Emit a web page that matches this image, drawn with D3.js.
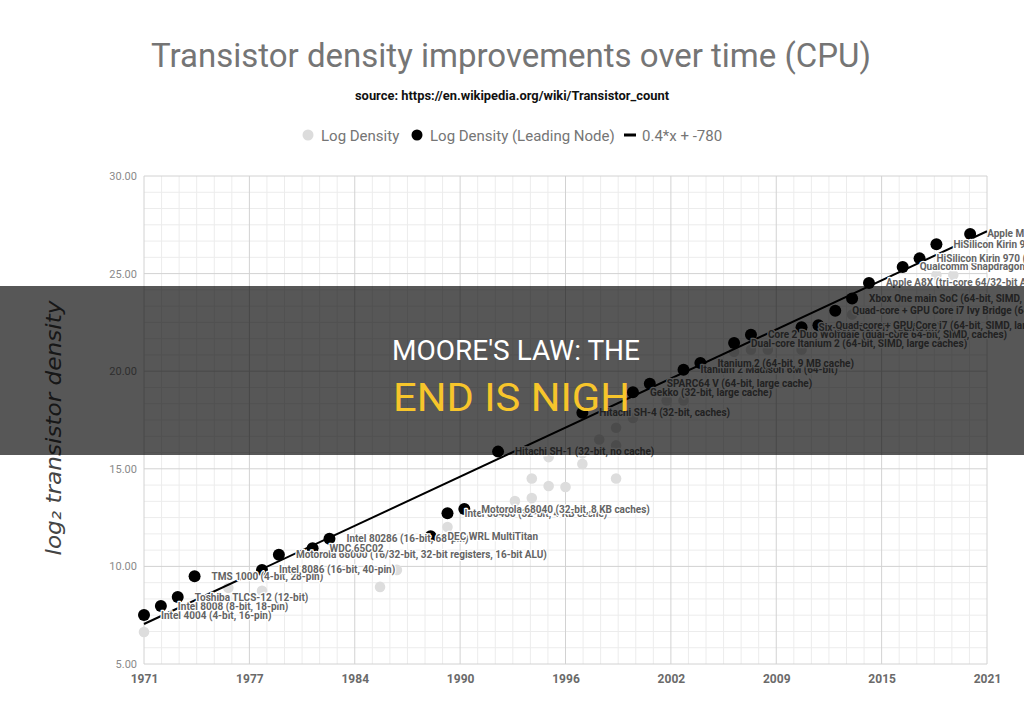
<!DOCTYPE html>
<html><head><meta charset="utf-8">
<script src="https://cdn.jsdelivr.net/npm/d3@7"></script>
<style>body{margin:0;background:#fff}svg{display:block;font-family:Roboto,sans-serif}</style>
</head><body><svg id="c" width="1024" height="723"></svg>
<script>
// ---------- data ----------
const xTickLabels = ["1971","1977","1984","1990","1996","2002","2009","2015","2021"];
const yTickValues = [5, 10, 15, 20, 25, 30];
const leadNames = [
  "Intel 4004 (4-bit, 16-pin)",
  "Intel 8008 (8-bit, 18-pin)",
  "Toshiba TLCS-12 (12-bit)",
  "TMS 1000 (4-bit, 28-pin)",
  "Intel 8086 (16-bit, 40-pin)",
  "Motorola 68000 (16/32-bit, 32-bit registers, 16-bit ALU)",
  "WDC 65C02",
  "Intel 80286 (16-bit, 68-pin)",
  "DEC WRL MultiTitan",
  "Intel 80486 (32-bit, 4 KB cache)",
  "Motorola 68040 (32-bit, 8 KB caches)",
  "Hitachi SH-1 (32-bit, no cache)",
  "Hitachi SH-4 (32-bit, caches)",
  "Gekko (32-bit, large cache)",
  "SPARC64 V (64-bit, large cache)",
  "Itanium 2 Madison 6M (64-bit)",
  "Itanium 2 (64-bit, 9 MB cache)",
  "Dual-core Itanium 2 (64-bit, SIMD, large caches)",
  "Core 2 Duo Wolfdale (dual-core 64-bit, SIMD, caches)",
  "Six-core Core i7 (Gulftown)",
  "Quad-core + GPU Core i7 (64-bit, SIMD, large caches)",
  "Quad-core + GPU Core i7 Ivy Bridge (64-bit, SIMD, caches)",
  "Xbox One main SoC (64-bit, SIMD, caches)",
  "Apple A8X (tri-core 64/32-bit ARM)",
  "Qualcomm Snapdragon 835 (octa-core ARM64 \"mobile SoC\", SIMD, caches)",
  "HiSilicon Kirin 970 (octa-core ARM64 \"mobile SoC\", SIMD, caches)",
  "HiSilicon Kirin 980 (octa-core ARM64 \"mobile SoC\", SIMD, caches)",
  "Apple M1 (octa-core ARM64 SoC, SIMD, caches)"
];
const leadYears = [1971,1972,1973,1974,1978,1979,1981,1982,1988,1989,1990,1992,1997,2000,2001,2003,2004,2006,2007,2010,2011,2012,2013,2014,2016,2017,2018,2020];
const leadValues = [7.51,7.97,8.43,9.50,9.82,10.60,10.93,11.42,11.54,12.72,12.94,15.88,17.87,18.92,19.36,20.07,20.42,21.44,21.87,22.25,22.36,23.10,23.73,24.52,25.34,25.78,26.50,27.03];
const grayYears = [1971,1976,1978,1985,1986,1989,1993,1994,1994,1995,1996,1995,1997,1997,1999,1998,1999,1999,2000,2002,2003,2006,2007,2008,2010,2013,2018,2019];
const grayValues = [6.64,8.90,8.75,8.95,9.82,12.02,13.35,13.50,14.50,14.12,14.07,15.60,15.25,15.80,14.50,16.50,16.20,17.10,17.60,18.50,18.50,21.00,21.10,21.10,21.10,22.90,24.93,24.93];
const trendYears = [1971, 2021];
const trendValues = [7.05, 27.17];

// ---------- layout ----------
const W = 1024, H = 723;
const m = {left:144, right:37, top:176, bottom:59};
const svg = d3.select("#c");
const x = d3.scaleLinear().domain([1971, 2021]).range([m.left, W - m.right]);
const y = d3.scaleLinear().domain([5, 30]).range([H - m.bottom, m.top]);

const xMajor = d3.range(9).map(i => 1971 + i * 6.25);
const xMinor = d3.range(49).map(i => 1971 + i * 6.25 / 6).filter((d, i) => i % 6 !== 0);
const yMinor = d3.range(31).map(i => 5 + i * 5 / 6).filter((d, i) => i % 6 !== 0);

// title
svg.append("text").attr("x", 511).attr("y", 67).attr("text-anchor", "middle")
  .attr("font-size", 33).attr("fill", "#757575").text("Transistor density improvements over time (CPU)");
svg.append("text").attr("x", 512).attr("y", 100).attr("text-anchor", "middle")
  .attr("font-size", 12.5).attr("font-weight", "bold").attr("fill", "#111")
  .attr("textLength", 314).attr("lengthAdjust", "spacingAndGlyphs")
  .text("source: https://en.wikipedia.org/wiki/Transistor_count");

// legend
const lg = svg.append("g").attr("font-size", 15).attr("fill", "#757575");
lg.append("circle").attr("cx", 308).attr("cy", 135).attr("r", 5.5).attr("fill", "#dcdcdc");
lg.append("text").attr("x", 321).attr("y", 140.5).text("Log Density");
lg.append("circle").attr("cx", 417).attr("cy", 135).attr("r", 5.5).attr("fill", "#000");
lg.append("text").attr("x", 430).attr("y", 140.5).text("Log Density (Leading Node)");
lg.append("line").attr("x1", 624).attr("x2", 636).attr("y1", 135).attr("y2", 135).attr("stroke", "#000").attr("stroke-width", 3);
lg.append("text").attr("x", 642).attr("y", 140.5).text("0.4*x + -780");

// grid
const grid = svg.append("g");
grid.selectAll(".vmin").data(xMinor).join("line")
  .attr("x1", d => x(d)).attr("x2", d => x(d)).attr("y1", m.top).attr("y2", H - m.bottom)
  .attr("stroke", "#ececec").attr("stroke-width", 1);
grid.selectAll(".hmin").data(yMinor).join("line")
  .attr("x1", m.left).attr("x2", W - m.right).attr("y1", d => y(d)).attr("y2", d => y(d))
  .attr("stroke", "#ececec").attr("stroke-width", 1);
grid.selectAll(".vmaj").data(xMajor).join("line")
  .attr("x1", d => x(d)).attr("x2", d => x(d)).attr("y1", m.top).attr("y2", H - m.bottom)
  .attr("stroke", "#d2d2d2").attr("stroke-width", 1);
grid.selectAll(".hmaj").data(yTickValues).join("line")
  .attr("x1", m.left).attr("x2", W - m.right).attr("y1", d => y(d)).attr("y2", d => y(d))
  .attr("stroke", "#d2d2d2").attr("stroke-width", 1);

// axes
const xAxis = svg.append("g").attr("transform", `translate(0,${H - m.bottom})`)
  .call(d3.axisBottom(x).tickValues(xMajor).tickFormat((d, i) => xTickLabels[i]).tickSize(0).tickPadding(10));
xAxis.select(".domain").remove();
xAxis.selectAll("text").attr("font-family", "Roboto").attr("font-size", 12).attr("font-weight", "bold").attr("fill", "#6a6a6a");
const yAxis = svg.append("g").attr("transform", `translate(${m.left},0)`)
  .call(d3.axisLeft(y).tickValues(yTickValues).tickFormat(d3.format(".2f")).tickSize(0).tickPadding(7));
yAxis.select(".domain").remove();
yAxis.selectAll("text").attr("font-family", "Roboto").attr("font-size", 11).attr("fill", "#8a8a8a");

// y title
svg.append("text").attr("transform", "translate(61,428) rotate(-90)").attr("text-anchor", "middle")
  .attr("font-family", "DejaVu Sans").attr("font-style", "italic").attr("font-size", 22)
  .attr("fill", "#444").attr("textLength", 255).attr("lengthAdjust", "spacingAndGlyphs")
  .text("log₂ transistor density");

// gray points
svg.append("g").selectAll("circle").data(grayYears.map((d, i) => [d, grayValues[i]])).join("circle")
  .attr("cx", d => x(d[0])).attr("cy", d => y(d[1])).attr("r", 5.3).attr("fill", "#dddddd");

// trend line
svg.append("path").datum(trendYears.map((d, i) => [d, trendValues[i]]))
  .attr("d", d3.line().x(d => x(d[0])).y(d => y(d[1])))
  .attr("stroke", "#000").attr("stroke-width", 2).attr("fill", "none");

// leading points
const lead = leadYears.map((d, i) => ({year: d, v: leadValues[i], name: leadNames[i]}));
svg.append("g").selectAll("circle").data(lead).join("circle")
  .attr("cx", d => x(d.year)).attr("cy", d => y(d.v)).attr("r", 6).attr("fill", "#000");
svg.append("g").selectAll("text").data(lead).join("text")
  .attr("x", d => x(d.year) + 17).attr("y", d => y(d.v)).attr("dy", "0.35em")
  .attr("font-size", 10).attr("font-weight", "bold").attr("fill", "#646464")
  .attr("stroke", "#fff").attr("stroke-width", 2.5).attr("paint-order", "stroke").attr("stroke-linejoin", "round")
  .text(d => d.name);

// banner overlay
svg.append("rect").attr("x", 0).attr("y", 286).attr("width", W).attr("height", 169)
  .attr("fill", "#000").attr("fill-opacity", 0.66);
svg.append("text").attr("x", 516).attr("y", 360).attr("text-anchor", "middle")
  .attr("font-size", 28).attr("fill", "#fff")
  .attr("textLength", 248).attr("lengthAdjust", "spacingAndGlyphs").text("MOORE'S LAW: THE");
svg.append("text").attr("x", 511.5).attr("y", 411).attr("text-anchor", "middle")
  .attr("font-size", 38).attr("fill", "#f7c52b")
  .attr("textLength", 237).attr("lengthAdjust", "spacingAndGlyphs").text("END IS NIGH");
</script></body></html>
